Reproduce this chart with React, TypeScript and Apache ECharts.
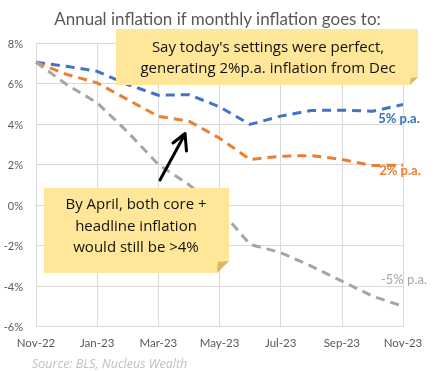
import React, { useEffect, useRef } from "react";
import * as echarts from "echarts";

const months = ["Nov-22", "Dec-22", "Jan-23", "Feb-23", "Mar-23", "Apr-23", "May-23", "Jun-23", "Jul-23", "Aug-23", "Sep-23", "Oct-23", "Nov-23"];
const fivePct = [7.05, 6.85, 6.6, 5.95, 5.42, 5.45, 4.85, 3.98, 4.39, 4.67, 4.68, 4.63, 4.96];
const twoPct = [7.05, 6.45, 6.03, 5.2, 4.38, 4.14, 3.3, 2.25, 2.41, 2.44, 2.25, 1.95, 1.97];
const minusFivePct = [7.05, 5.95, 5.05, 3.6, 2.0, 1.0, -0.2, -1.95, -2.35, -3.02, -3.76, -4.5, -5.0];
const seriesNames = ["5% p.a.", "2% p.a.", "-5% p.a."];
const yTicks = { min: -6, max: 8, interval: 2 };
const titleText = "Annual inflation if monthly inflation goes to:";
const noteTopLines = ["Say today's settings were perfect,", "generating 2%p.a. inflation from Dec"];
const noteBottomLines = ["By April, both core +", "headline inflation", "would still be >4%"];
const sourceText = "Source: BLS, Nucleus Wealth";

const FONT = "Lato, 'Open Sans', sans-serif";
const NOTE_FONT = "'Open Sans', sans-serif";

export default function App() {
  const ref = useRef<HTMLDivElement>(null);
  useEffect(() => {
    if (!ref.current) return;
    const chart = echarts.init(ref.current, undefined, { renderer: "svg" });
    const lineSeries = (name: string, data: number[], color: string, labelColor: string, offset: number[], bold: boolean) => ({
      type: "line",
      name,
      data,
      showSymbol: false,
      silent: true,
      z: 3,
      itemStyle: { color },
      lineStyle: { color, width: 3, type: [9, 6] },
      endLabel: {
        show: true,
        formatter: name,
        distance: 0,
        offset,
        align: "center",
        verticalAlign: "middle",
        color: labelColor,
        fontSize: 13,
        fontWeight: bold ? "bold" : "normal",
        fontFamily: FONT,
      },
    });
    const noteFill = "#FFE699";
    const foldFill = "#D6B865";
    const noteText = (text: string, x: number, y: number, size: number) => ({
      type: "text",
      z: 102,
      x,
      y,
      style: {
        text,
        align: "center",
        verticalAlign: "middle",
        fontSize: size,
        fontFamily: NOTE_FONT,
        fill: "#111111",
      },
    });
    chart.setOption({
      animation: false,
      title: {
        text: titleText,
        left: "center",
        top: 5,
        textStyle: { fontSize: 17, fontWeight: "normal", color: "#595959", fontFamily: FONT },
      },
      grid: { left: 36, right: 32, top: 43, bottom: 44.5 },
      xAxis: {
        type: "category",
        data: months,
        boundaryGap: false,
        axisTick: { show: false },
        axisLine: { lineStyle: { color: "#D9D9D9" } },
        axisLabel: { interval: 1, color: "#595959", fontSize: 11.5, margin: 10, fontFamily: FONT },
        splitLine: { show: true, interval: 1, lineStyle: { color: "#D9D9D9" } },
      },
      yAxis: {
        type: "value",
        min: yTicks.min,
        max: yTicks.max,
        interval: yTicks.interval,
        axisLine: { show: false },
        axisTick: { show: false },
        axisLabel: { formatter: "{value}%", color: "#595959", fontSize: 11, margin: 13, fontFamily: FONT },
        splitLine: { lineStyle: { color: "#D9D9D9" } },
      },
      series: [
        lineSeries(seriesNames[0], fivePct, "#4472C4", "#2E75B6", [-4, 13], true),
        lineSeries(seriesNames[1], twoPct, "#ED7D31", "#ED7D31", [-3, 5], true),
        lineSeries(seriesNames[2], minusFivePct, "#A5A5A5", "#A5A5A5", [1, -27], false),
      ],
      graphic: [
        {
          type: "polygon",
          z: 100,
          shape: { points: [[116, 29], [418, 29], [418, 77], [410, 85], [116, 85]] },
          style: { fill: noteFill },
        },
        {
          type: "polygon",
          z: 101,
          shape: { points: [[418, 77], [410, 85], [411, 78]] },
          style: { fill: foldFill },
        },
        noteText(noteTopLines[0], 268, 45.5, 15),
        noteText(noteTopLines[1], 268, 67, 15),
        {
          type: "polygon",
          z: 100,
          shape: { points: [[44, 188], [229, 188], [229, 261], [217, 273], [44, 273]] },
          style: { fill: noteFill },
        },
        {
          type: "polygon",
          z: 101,
          shape: { points: [[229, 261], [217, 273], [218, 262]] },
          style: { fill: foldFill },
        },
        noteText(noteBottomLines[0], 136, 203, 15),
        noteText(noteBottomLines[1], 136, 224.5, 15),
        noteText(noteBottomLines[2], 136, 246, 15),
        {
          type: "line",
          z: 103,
          shape: { x1: 160, y1: 180, x2: 185, y2: 134 },
          style: { stroke: "#000000", lineWidth: 3, lineCap: "round" },
        },
        {
          type: "polyline",
          z: 103,
          shape: { points: [[173, 143], [185, 133.5], [186.5, 151]] },
          style: { stroke: "#000000", lineWidth: 3, lineCap: "round", lineJoin: "round", fill: "none" },
        },
        {
          type: "text",
          z: 102,
          x: 32,
          y: 363,
          style: {
            text: sourceText,
            verticalAlign: "middle",
            fontSize: 12.5,
            fontStyle: "italic",
            fontFamily: NOTE_FONT,
            fill: "#BFBFBF",
          },
        },
      ],
    });
    return () => chart.dispose();
  }, []);
  return <div ref={ref} style={{ position: "fixed", left: 0, top: 0, width: 435, height: 371 }} />;
}
